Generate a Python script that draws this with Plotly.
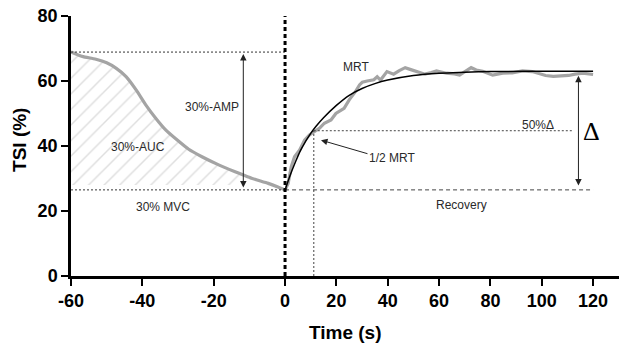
import plotly.graph_objects as go

# ---------------- data ----------------
# exercise phase (left, -60..0 s)
ex_t = [-60, -58, -56.6, -53, -50, -47.3, -44.5, -41.7, -39, -36.2, -33.4, -30.6,
        -27, -23.3, -18.6, -14, -11.7, -9.4, -4.7, -2, 0]
ex_tsi = [68.9, 68.0, 67.5, 66.7, 65.6, 63.9, 61.3, 57.2, 52.6, 48.5, 44.9, 42.2,
          39.0, 36.7, 34.2, 32.1, 31.1, 30.1, 28.5, 27.4, 26.5]

# recovery phase (right, 0..120 s)
rec_t = [0, 1.2, 2.4, 3.7, 5.7, 7.6, 9.5, 11.5, 13.5, 15.3, 17.9, 19.8, 23, 25,
         27.4, 29, 30.1, 32, 34.6, 35.9, 37.2, 39.7, 42.3, 44.5, 46.8, 49, 51.3,
         54.5, 57, 59, 62.9, 66, 68, 70.6, 72.5, 74.5, 77, 80.9, 84.8, 88.5, 92.5,
         96.3, 101.5, 104.5, 107.9, 110.5, 113, 116, 120]
rec_tsi = [26.5, 28.5, 33.6, 36.7, 38.8, 41.8, 43.4, 44.4, 45.5, 47.0, 48.0, 50.0,
           51.6, 54.2, 56.7, 58.8, 59.6, 60.0, 60.4, 61.3, 60.3, 62.9, 62.1, 63.2,
           64.1, 63.5, 62.9, 62.1, 62.6, 63.1, 62.4, 62.2, 61.8, 63.1, 64.1, 63.4,
           63.0, 61.8, 62.4, 62.5, 63.1, 62.9, 61.7, 61.4, 61.5, 61.7, 62.1, 62.4, 62.0]

# mono-exponential fit (black curve)
fit_t = [0, 2, 4, 6, 8, 10, 12, 15, 20, 25, 30, 35, 40, 50, 60, 70, 80, 100, 120]
fit_tsi = [26.4, 31.0, 35.0, 38.6, 41.4, 43.9, 46.0, 48.7, 52.5, 55.6, 57.7, 59.2,
           60.3, 61.7, 62.4, 62.7, 62.9, 63.0, 63.0]

# reference levels / markers
start_level = 68.9      # TSI at start of contraction
mvc_level = 26.5        # TSI at end of 30% MVC
half_level = 44.7       # 50% delta
half_mrt_t = 11.2       # 1/2 MRT time
amp_t = -11.7           # position of 30%-AMP arrow
delta_t = 114.3         # position of delta arrow
plateau = 63.0

x_left_ticks = [-60, -40, -20, 0]
x_left_labels = ["-60", "-40", "-20", "0"]
x_right_ticks = [20, 40, 60, 80, 100, 120]
y_ticks = [0, 20, 40, 60, 80]

# ---------------- figure ----------------
FONT = "Liberation Sans, Arial, sans-serif"
GRAY = "#a4a4a4"
TXT = "#2a2a2a"

fig = go.Figure()

# hatched AUC area (under exercise curve, above 30% MVC level)
hx = [t for t in ex_t if t <= amp_t]
hy = [v for t, v in zip(ex_t, ex_tsi) if t <= amp_t]
fig.add_trace(go.Scatter(
    x=hx + [amp_t, ex_t[0]], y=hy + [mvc_level + 1.5, mvc_level + 1.5],
    xaxis="x", yaxis="y", mode="lines", line=dict(width=0),
    fill="toself", fillcolor="rgba(0,0,0,0)",
    fillpattern=dict(shape="/", fgcolor="#bdbdbd", bgcolor="rgba(0,0,0,0)",
                     size=11, solidity=0.13),
    hoverinfo="skip", showlegend=False))

fig.add_trace(go.Scatter(x=ex_t, y=ex_tsi, xaxis="x", yaxis="y", mode="lines",
                         line=dict(color=GRAY, width=3.2, shape="spline", smoothing=0.6),
                         showlegend=False))
fig.add_trace(go.Scatter(x=rec_t, y=rec_tsi, xaxis="x2", yaxis="y", mode="lines",
                         line=dict(color=GRAY, width=3.2), showlegend=False))
fig.add_trace(go.Scatter(x=fit_t, y=fit_tsi, xaxis="x2", yaxis="y", mode="lines",
                         line=dict(color="black", width=1.5, shape="spline"),
                         showlegend=False))

shapes = [
    dict(type="line", xref="x", yref="y", x0=-60, x1=0, y0=start_level, y1=start_level,
         line=dict(color="#333", width=1, dash="2px,2px")),
    dict(type="line", xref="x", yref="y", x0=-60, x1=0, y0=mvc_level, y1=mvc_level,
         line=dict(color="#333", width=1, dash="2px,2px")),
    dict(type="line", xref="x2", yref="y", x0=0, x1=120, y0=mvc_level, y1=mvc_level,
         line=dict(color="#444", width=1, dash="4px,3px")),
    dict(type="line", xref="x2", yref="y", x0=half_mrt_t, x1=112, y0=half_level, y1=half_level,
         line=dict(color="#444", width=1, dash="2px,2px")),
    dict(type="line", xref="x2", yref="y", x0=half_mrt_t, x1=half_mrt_t, y0=0, y1=half_level,
         line=dict(color="#444", width=1, dash="2px,2px")),
    # thick dashed line at t = 0 (right end of left axis)
    dict(type="line", xref="x domain", yref="y domain", x0=1, x1=1, y0=0, y1=1,
         line=dict(color="black", width=3, dash="4px,3px")),
]

def txt(text, x, y, xref, size=12, family=FONT, color=TXT):
    return dict(text=text, x=x, y=y, xref=xref, yref="y", showarrow=False,
                font=dict(family=family, size=size, color=color),
                xanchor="center", yanchor="middle")

annotations = [
    # double arrows
    dict(x=amp_t, y=start_level - 0.6, ax=amp_t, ay=mvc_level + 0.3, xref="x", yref="y",
         axref="x", ayref="y", text="", showarrow=True, arrowside="end+start",
         arrowhead=2, startarrowhead=2, arrowsize=1.3, startarrowsize=1.3,
         arrowwidth=1, arrowcolor="#222"),
    dict(x=delta_t, y=plateau - 1.4, ax=delta_t, ay=mvc_level + 0.9, xref="x2", yref="y",
         axref="x2", ayref="y", text="", showarrow=True, arrowside="end+start",
         arrowhead=2, startarrowhead=2, arrowsize=1.3, startarrowsize=1.3,
         arrowwidth=1, arrowcolor="#222"),
    # 1/2 MRT arrow
    dict(x=14.0, y=41.8, ax=32.7, ay=37.5, xref="x2", yref="y", axref="x2", ayref="y",
         text="", showarrow=True, arrowhead=2, arrowsize=1.3, arrowwidth=1,
         arrowcolor="#222"),
    txt("30%-AMP", -20.6, 51.9, "x"),
    txt("30%-AUC", -41.3, 39.8, "x"),
    txt("30% MVC", -34.2, 21.1, "x"),
    txt("MRT", 27.5, 64.4, "x2"),
    txt("50%Δ", 98.6, 46.5, "x2"),
    txt("Δ", 119.5, 44.4, "x2", size=26, family="Liberation Serif, Times New Roman, serif",
        color="black"),
    txt("1/2 MRT", 41.7, 36.2, "x2"),
    txt("Recovery", 68.9, 21.8, "x2"),
    # axis titles
    dict(text="Time (s)", x=0.5, y=-0.219, xref="paper", yref="paper", showarrow=False,
         font=dict(family=FONT, size=19, color="black", weight="bold"),
         xanchor="center", yanchor="middle"),
    dict(text="TSI (%)", x=-0.095, y=0.523, xref="paper", yref="paper", showarrow=False,
         textangle=-90, font=dict(family=FONT, size=19, color="black", weight="bold"),
         xanchor="center", yanchor="middle"),
]

d1 = 216 / 553
axis_common = dict(showline=True, linecolor="black", linewidth=2.5, ticks="outside",
                   ticklen=7, tickwidth=2, tickcolor="black", showgrid=False,
                   zeroline=False,
                   tickfont=dict(family=FONT, size=18, color="black", weight="bold"))

fig.update_layout(
    width=624, height=347,
    margin=dict(l=71, r=0, t=16, b=71),
    paper_bgcolor="white", plot_bgcolor="white",
    xaxis=dict(domain=[0, d1], range=[-60, 0], tickvals=x_left_ticks,
               ticktext=x_left_labels, anchor="y", **axis_common),
    xaxis2=dict(domain=[d1, 1], range=[0, 130.1], tickvals=x_right_ticks, anchor="y",
                **axis_common),
    yaxis=dict(domain=[0, 1], range=[0, 80], tickvals=y_ticks, anchor="x",
               ticklabeloverflow="allow", **axis_common),
    shapes=shapes,
    annotations=annotations,
    showlegend=False,
)

# remove the default page margin so the figure sits at the window's top-left corner
fig.write_html("out.html",
               config={"displayModeBar": False},
               post_script="document.body.style.margin='0px';"
                           "document.body.style.overflow='hidden';")
